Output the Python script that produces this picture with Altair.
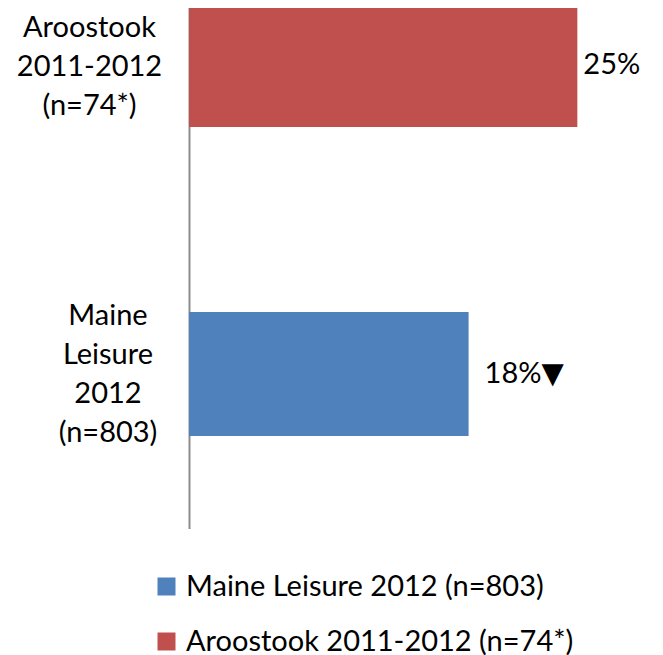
import altair as alt
import pandas as pd

series = ["Aroostook 2011-2012 (n=74*)", "Maine Leisure 2012 (n=803)"]
legend_order = ["Maine Leisure 2012 (n=803)", "Aroostook 2011-2012 (n=74*)"]
cat_labels = ["Aroostook|2011-2012|(n=74*)", "Maine|Leisure|2012|(n=803)"]
values = [25, 18]
value_text = ["25%", "18%▼"]
colors = ["#4F81BD", "#C0504D"]

df = pd.DataFrame({"series": series, "cat": cat_labels, "value": values, "text": value_text})

FONT = "Lato, 'DejaVu Sans', sans-serif"
FS = 29

y = alt.Y(
    "series:N",
    sort=series,
    scale=alt.Scale(range=[-97.5, 520.5], paddingInner=0.5987, paddingOuter=0.29935),
    axis=alt.Axis(labels=False, ticks=False, title=None, domainColor="#8C8C8C", domainWidth=2, grid=False),
)
x = alt.X("value:Q", scale=alt.Scale(domain=[0, 30]), axis=None)

base = alt.Chart(df)

bars = base.mark_bar().encode(
    x=x,
    y=y,
    color=alt.Color(
        "series:N",
        scale=alt.Scale(domain=legend_order, range=colors),
        legend=alt.Legend(
            orient="none", legendX=-37, legendY=564, direction="vertical", title=None,
            symbolType="square", symbolSize=324, symbolStrokeWidth=0, symbolOpacity=1,
            labelFontSize=FS, labelFont=FONT, labelColor="#000000", labelOffset=5,
            rowPadding=25, padding=0, labelLimit=600,
        ),
    ),
)

vals1 = base.transform_filter(alt.datum.series == series[0]).mark_text(
    align="left", baseline="middle", dx=6, fontSize=FS, font=FONT, color="#000000"
).encode(x=x, y=y, text="text:N")

vals2 = base.transform_filter(alt.datum.series == series[1]).mark_text(
    align="left", baseline="middle", dx=16, fontSize=FS, font=FONT, color="#000000"
).encode(x=x, y=y, text="text:N")

lab1 = base.transform_filter(alt.datum.series == series[0]).mark_text(
    align="center", baseline="middle", lineBreak="|", fontSize=FS, lineHeight=39, dy=-37,
    font=FONT, color="#000000"
).encode(x=alt.value(-99.5), y=y, text="cat:N")

lab2 = base.transform_filter(alt.datum.series == series[1]).mark_text(
    align="center", baseline="middle", lineBreak="|", fontSize=FS, lineHeight=39, dy=-58.5,
    font=FONT, color="#000000"
).encode(x=alt.value(-81), y=y, text="cat:N")

chart = alt.layer(bars, vals1, vals2, lab1, lab2).properties(
    width=466, height=520,
    autosize=alt.AutoSizeParams(type="none"),
    padding={"left": 181, "top": 0, "right": 0, "bottom": 127},
    background="white",
).configure_view(stroke=None)

chart.save("out.html", embed_options={"renderer": "svg", "actions": False})
